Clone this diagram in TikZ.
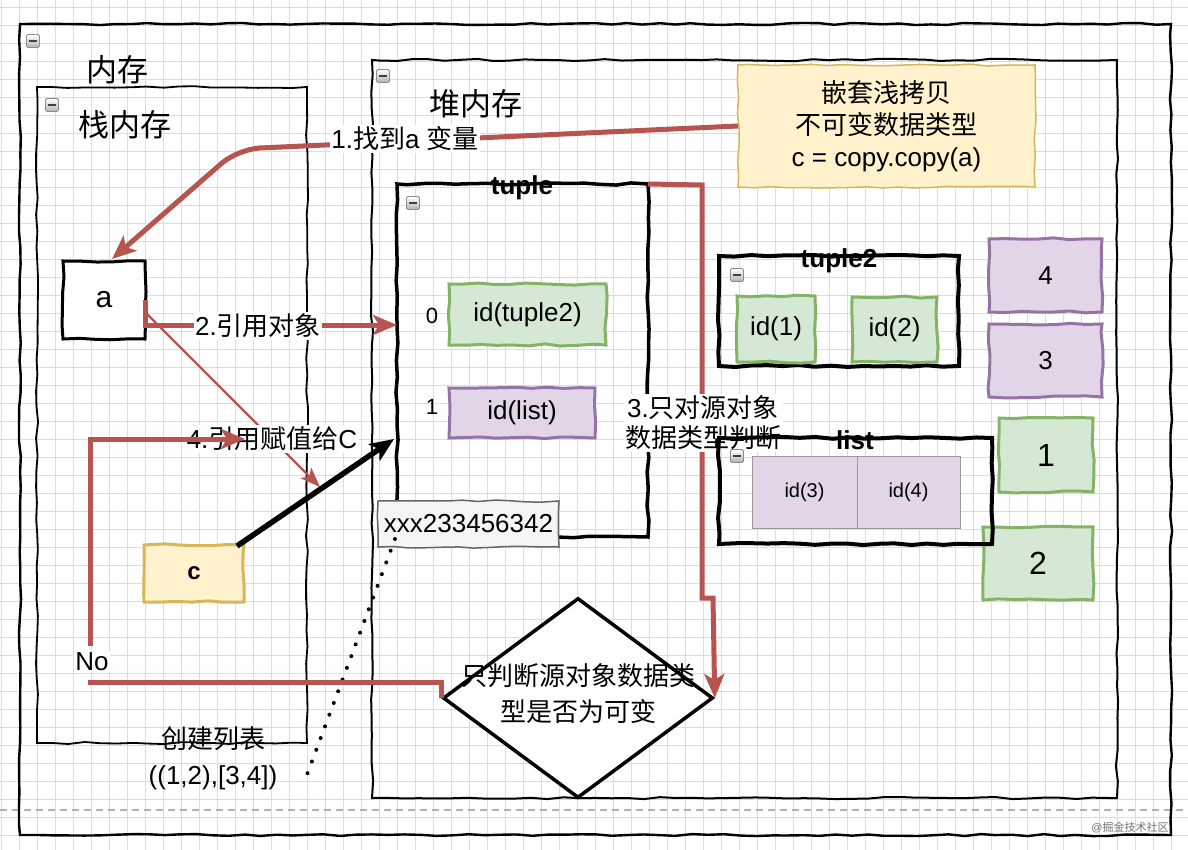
\documentclass[tikz,border=0pt]{standalone}
\usepackage{fontspec}
\setmainfont{Liberation Sans}
\newfontfamily\cjk{Noto Sans CJK SC}
\usetikzlibrary{arrows.meta,shapes.geometric,decorations.pathmorphing,calc}

\definecolor{redline}{HTML}{B85450}
\definecolor{grnline}{HTML}{82B366}
\definecolor{grnfill}{HTML}{D5E8D4}
\definecolor{purline}{HTML}{9673A6}
\definecolor{purfill}{HTML}{E1D5E7}
\definecolor{yelline}{HTML}{D6B656}
\definecolor{yelfill}{HTML}{FFF2CC}
\definecolor{gridgray}{HTML}{DCDCDC}

\begin{document}
\begin{tikzpicture}[x=1pt, y=-1pt,
  sketch/.style={decorate, decoration={random steps, segment length=16pt, amplitude=1.1pt}},
  frame/.style={sketch, draw=black, inner sep=0pt, outer sep=0pt, anchor=north west},
  gbox/.style={frame, draw=grnline, fill=grnfill, line width=3pt},
  pbox/.style={frame, draw=purline, fill=purfill, line width=3pt},
  ybox/.style={frame, draw=yelline, fill=yelfill},
  cell/.style={draw=black!40, fill=purfill, line width=0.8pt, inner sep=0pt, outer sep=0pt,
               anchor=north west, minimum height=72pt, font=\fontsize{20}{24}\selectfont},
  txt/.style={inner sep=0pt, font=\fontsize{26}{32}\selectfont},
  ttl/.style={inner sep=0pt, font=\fontsize{31}{36}\selectfont\cjk},
  hdr/.style={inner sep=0pt, font=\fontsize{26}{30}\selectfont\bfseries},
  lbl/.style={txt, fill=white, inner sep=1.5pt, align=center},
  foldicon/.style={draw=black!45, rounded corners=1.5pt, minimum width=13pt, minimum height=13pt,
    inner sep=0pt, top color=white, bottom color=black!30, line width=0.8pt,
    path picture={\draw[line width=2pt, black!75]
      ($(path picture bounding box.center)+(-4,0)$) -- ($(path picture bounding box.center)+(4,0)$);}},
  redwire/.style={draw=redline, line width=5pt},
  thinwire/.style={draw=redline, line width=2.4pt},
  bigtip/.style={-{Stealth[length=24pt,width=20pt,inset=6pt]}},
  smalltip/.style={-{Stealth[length=20pt,width=15pt,inset=5pt]}},
  blackwire/.style={draw=black, line width=5.5pt, -{Stealth[length=24pt,width=20pt,inset=6pt]}},
  dots/.style={draw=black, line width=4pt, line cap=round, dash pattern=on 0pt off 12.5pt}
]
\pgfmathsetseed{11}
\useasboundingbox (0,0) rectangle (1188,850);
\fill[white] (0,0) rectangle (1188,850);

% background grid and page break
\foreach \gx in {1,19,...,1188} \draw[gridgray, line width=0.9pt] (\gx,0) -- (\gx,850);
\foreach \gy in {7,25,...,850} \draw[gridgray, line width=0.9pt] (0,\gy) -- (1188,\gy);
\draw[black!30, line width=1.5pt, dash pattern=on 7pt off 5pt] (0,810) -- (1188,810);

% memory containers
\node[frame, line width=2.4pt, minimum width=1151pt, minimum height=811pt] (mem) at (20,24) {};
\node[foldicon] (memfold) at (33,41) {};
\node[ttl] (memtitle) at (117,70) {内存};

\node[frame, line width=1.8pt, minimum width=270pt, minimum height=656pt] (stack) at (37,87) {};
\node[foldicon] (stackfold) at (52,105) {};
\node[ttl] (stacktitle) at (125,125) {栈内存};

\node[frame, line width=2pt, minimum width=745pt, minimum height=738pt] (heap) at (372,60) {};
\node[foldicon] (heapfold) at (383,76) {};
\node[ttl] (heaptitle) at (476,104) {堆内存};

% note
\node[ybox, line width=1.5pt, minimum width=297pt, minimum height=122pt] (note) at (738,65) {};
\node[txt, align=center] (notetext) at (note.center) {{\cjk 嵌套浅拷贝}\\{\cjk 不可变数据类型}\\c = copy.copy(a)};

% tuple container
\node[frame, line width=3.5pt, minimum width=251pt, minimum height=353pt] (tuple) at (397,184) {};
\node[hdr] (tupletitle) at (522,188) {tuple};
\node[foldicon] (tuplefold) at (413,203) {};
\node[gbox, minimum width=157pt, minimum height=61pt, txt] (idt2) at (449,284) {id(tuple2)};
\node[txt, font=\fontsize{22}{26}\selectfont] (idx0) at (432,316) {0};
\node[pbox, minimum width=146pt, minimum height=50pt, txt] (idl) at (449,388) {id(list)};
\node[txt, font=\fontsize{22}{26}\selectfont] (idx1) at (432,407) {1};

% tuple2 container
\node[frame, line width=4pt, minimum width=240pt, minimum height=110pt] (tuple2) at (719,256) {};
\node[hdr] (tuple2title) at (839,261) {tuple2};
\node[foldicon] (tuple2fold) at (737,275) {};
\node[gbox, minimum width=78pt, minimum height=66pt, txt] (id1) at (737,296) {id(1)};
\node[gbox, minimum width=85pt, minimum height=65pt, txt] (id2) at (852,297) {id(2)};

% integer objects
\node[pbox, minimum width=113pt, minimum height=73pt, txt] (v4) at (989,239) {4};
\node[pbox, minimum width=113pt, minimum height=73pt, txt] (v3) at (989,324) {3};
\node[gbox, minimum width=94pt, minimum height=74pt, txt, font=\fontsize{32}{36}\selectfont] (v1) at (999,418) {1};
\node[gbox, minimum width=110pt, minimum height=73pt, txt, font=\fontsize{32}{36}\selectfont] (v2) at (983,527) {2};

% variables on the stack
\node[frame, line width=3pt, fill=white, minimum width=82pt, minimum height=78pt, txt, font=\fontsize{30}{34}\selectfont] (a) at (63,261) {a};
\node[ybox, line width=3pt, minimum width=100pt, minimum height=57pt, txt, font=\fontsize{24}{28}\selectfont\bfseries] (c) at (144,545) {c};

% address label and its dotted link
\node[frame, draw=black!60, fill=black!4, line width=1.5pt, minimum width=181pt, minimum height=46pt, txt] (addr) at (378,501) {xxx233456342};
\coordinate (dotend) at (305,780);
\draw[dots] ($(addr.south west)+(17,-8)$) -- (dotend);

% decision
\node[diamond, draw=black, line width=3.5pt, fill=white, inner sep=0pt, minimum width=270pt, minimum height=200pt] (dia) at (578,698) {};
\node[txt, align=center, font=\fontsize{26}{36}\selectfont\cjk] (diatext) at (578,694) {只判断源对象数据类\\型是否为可变};

% list creation text
\node[txt, align=center, font=\fontsize{26}{36}\selectfont] (create) at (213,758) {{\cjk 创建列表}\\((1,2),[3,4])};

% step 1: find variable a
\coordinate (bend1) at (238,149);
\draw[redwire, bigtip, rounded corners=22pt] (note.west) -- (bend1) -- ($(a.north)+(8,-2)$);
\node[lbl] (step1) at (405,139) {1.{\cjk 找到}a {\cjk 变量}};

% step 2: reference the object
\coordinate (a2) at ($(a.east)+(0,25)$);
\draw[redwire, bigtip] (a.east) -- (a2) -- (a2 -| tuple.west);
\node[lbl] (step2) at (258,326) {2.{\cjk 引用对象}};

% step 4: assign the reference to c
\coordinate (a3) at ($(a.east)+(0,12)$);
\coordinate (t4tip) at (320,487);
\draw[thinwire, smalltip] (a3) -- (t4tip);
\node[lbl] (step4) at (272,439) {4.{\cjk 引用赋值给}C};

\node[txt, fill=white, inner sep=1pt] (no) at (92,662) {No};
\coordinate (n1) at ($(no.north)+(-2,-6)$);
\coordinate (t4) at (245,439);
\draw[redwire, bigtip] (n1) |- (t4);

\draw[blackwire] ($(c.north east)+(-7,1)$) -- ($(tuple.west |- t4)+(-3,0)$);

% step 3: check the type of the source object
\coordinate (r1) at (702,185);
\coordinate (r2) at (702,598);
\coordinate (r3) at (713,598);
\draw[redwire, bigtip] (tuple.north east) -- (r1) -- (r2) -- (r3) -- (dia.east);
\node[lbl, font=\fontsize{26}{30}\selectfont] (step3) at (703,423) {3.{\cjk 只对源对象}\\{\cjk 数据类型判断}};

% "No" branch into the decision
\coordinate (n2) at (88,682);
\draw[redwire] (n2) -| (dia.west);

% list container
\node[frame, line width=4pt, minimum width=273pt, minimum height=106pt] (list) at (719,438) {};
\node[hdr] (listtitle) at (855,440) {list};
\node[foldicon] (listfold) at (737,456) {};
\node[cell, minimum width=105pt] (id3) at (752,456) {id(3)};
\node[cell, minimum width=103pt] (id4) at (857,456) {id(4)};

% watermark
\node[inner sep=0pt, text=black!55, font=\fontsize{11}{12}\selectfont] (mark) at (1130,828) {@{\cjk 掘金技术社区}};
\end{tikzpicture}
\end{document}
